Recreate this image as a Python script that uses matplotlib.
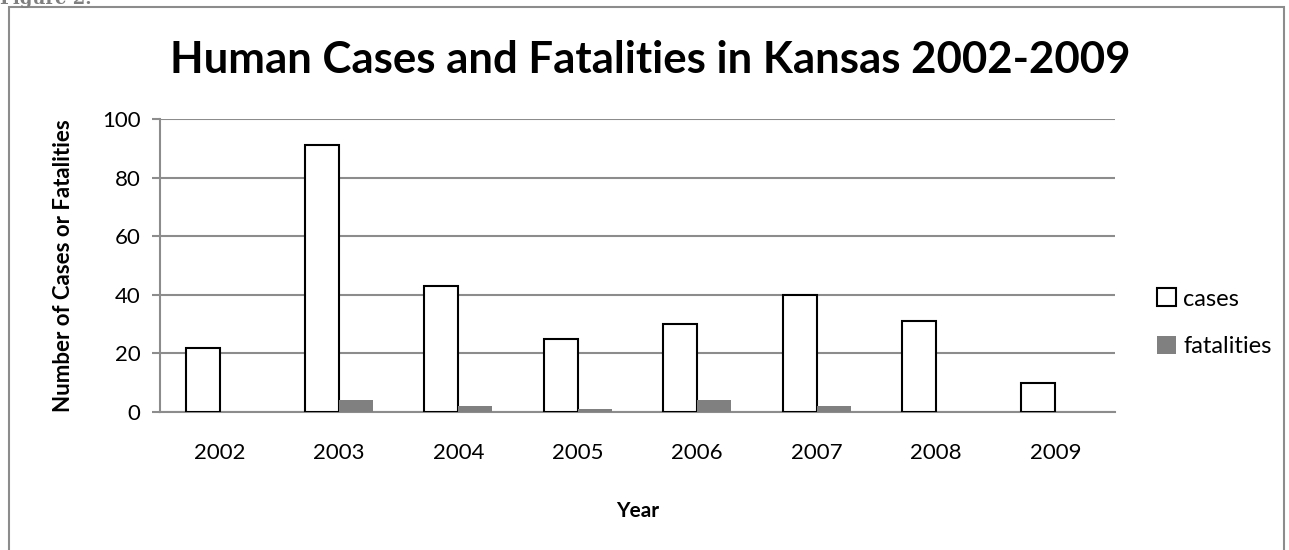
import matplotlib.pyplot as plt
from matplotlib.patches import Rectangle
import numpy as np

plt.rcParams['font.family'] = ['Lato', 'DejaVu Sans']

years = ['2002', '2003', '2004', '2005', '2006', '2007', '2008', '2009']
cases = [22, 91, 43, 25, 30, 40, 31, 10]
fatalities = [0, 4, 2, 1, 4, 2, 0, 0]

fig = plt.figure(figsize=(12.89, 5.5), dpi=100)
ax = fig.add_axes([160/1289, 1 - 412/550, 955/1289, 293/550])

x = np.arange(len(years))
w = 0.285
ax.bar(x - w/2, cases, w, facecolor='white', edgecolor='black', linewidth=1.5, label='cases', zorder=3)
ax.bar(x + w/2, fatalities, w, color='#808080', label='fatalities', zorder=3)

ax.set_xlim(-0.5, len(years) - 0.5)
ax.set_ylim(0, 100)
ax.set_yticks(range(0, 101, 20))
ax.set_xticks(x, years)
ax.yaxis.grid(True, color='#8c8c8c', linewidth=1.5, zorder=0)
for s in ['top', 'right']:
    ax.spines[s].set_visible(False)
for s in ['left', 'bottom']:
    ax.spines[s].set_color('#8c8c8c')
    ax.spines[s].set_linewidth(1.5)
ax.tick_params(axis='y', length=6, width=1.5, color='#8c8c8c', labelsize=16, pad=8)
ax.tick_params(axis='x', length=0, labelsize=16, pad=22)

ax.set_xlabel('Year', fontsize=15, fontweight='bold', labelpad=28)
ax.set_ylabel('Number of Cases or Fatalities', fontsize=16, fontweight='bold', labelpad=20)
fig.text(650/1289, 1 - 73/550, 'Human Cases and Fatalities in Kansas 2002-2009', ha='center', va='baseline',
         fontsize=31.5, fontweight='bold')

leg = ax.legend(loc='center left', bbox_to_anchor=(1.022, 0.305), frameon=False, fontsize=17,
                handlelength=0.8, handleheight=0.8, handletextpad=0.3, labelspacing=1.1)

# outer frame
fig.patches.append(Rectangle((9/1289, -0.05), 1275/1289, 1 - 7/550 + 0.05, transform=fig.transFigure,
                             fill=False, edgecolor='#8c8c8c', linewidth=1.5))
fig.text(0.0, 1 - 4/550, 'Figure 2.', fontsize=13, fontweight='bold', color='#7f7f7f',
         family='DejaVu Serif', va='baseline')

fig.savefig('out.png', dpi=100)
